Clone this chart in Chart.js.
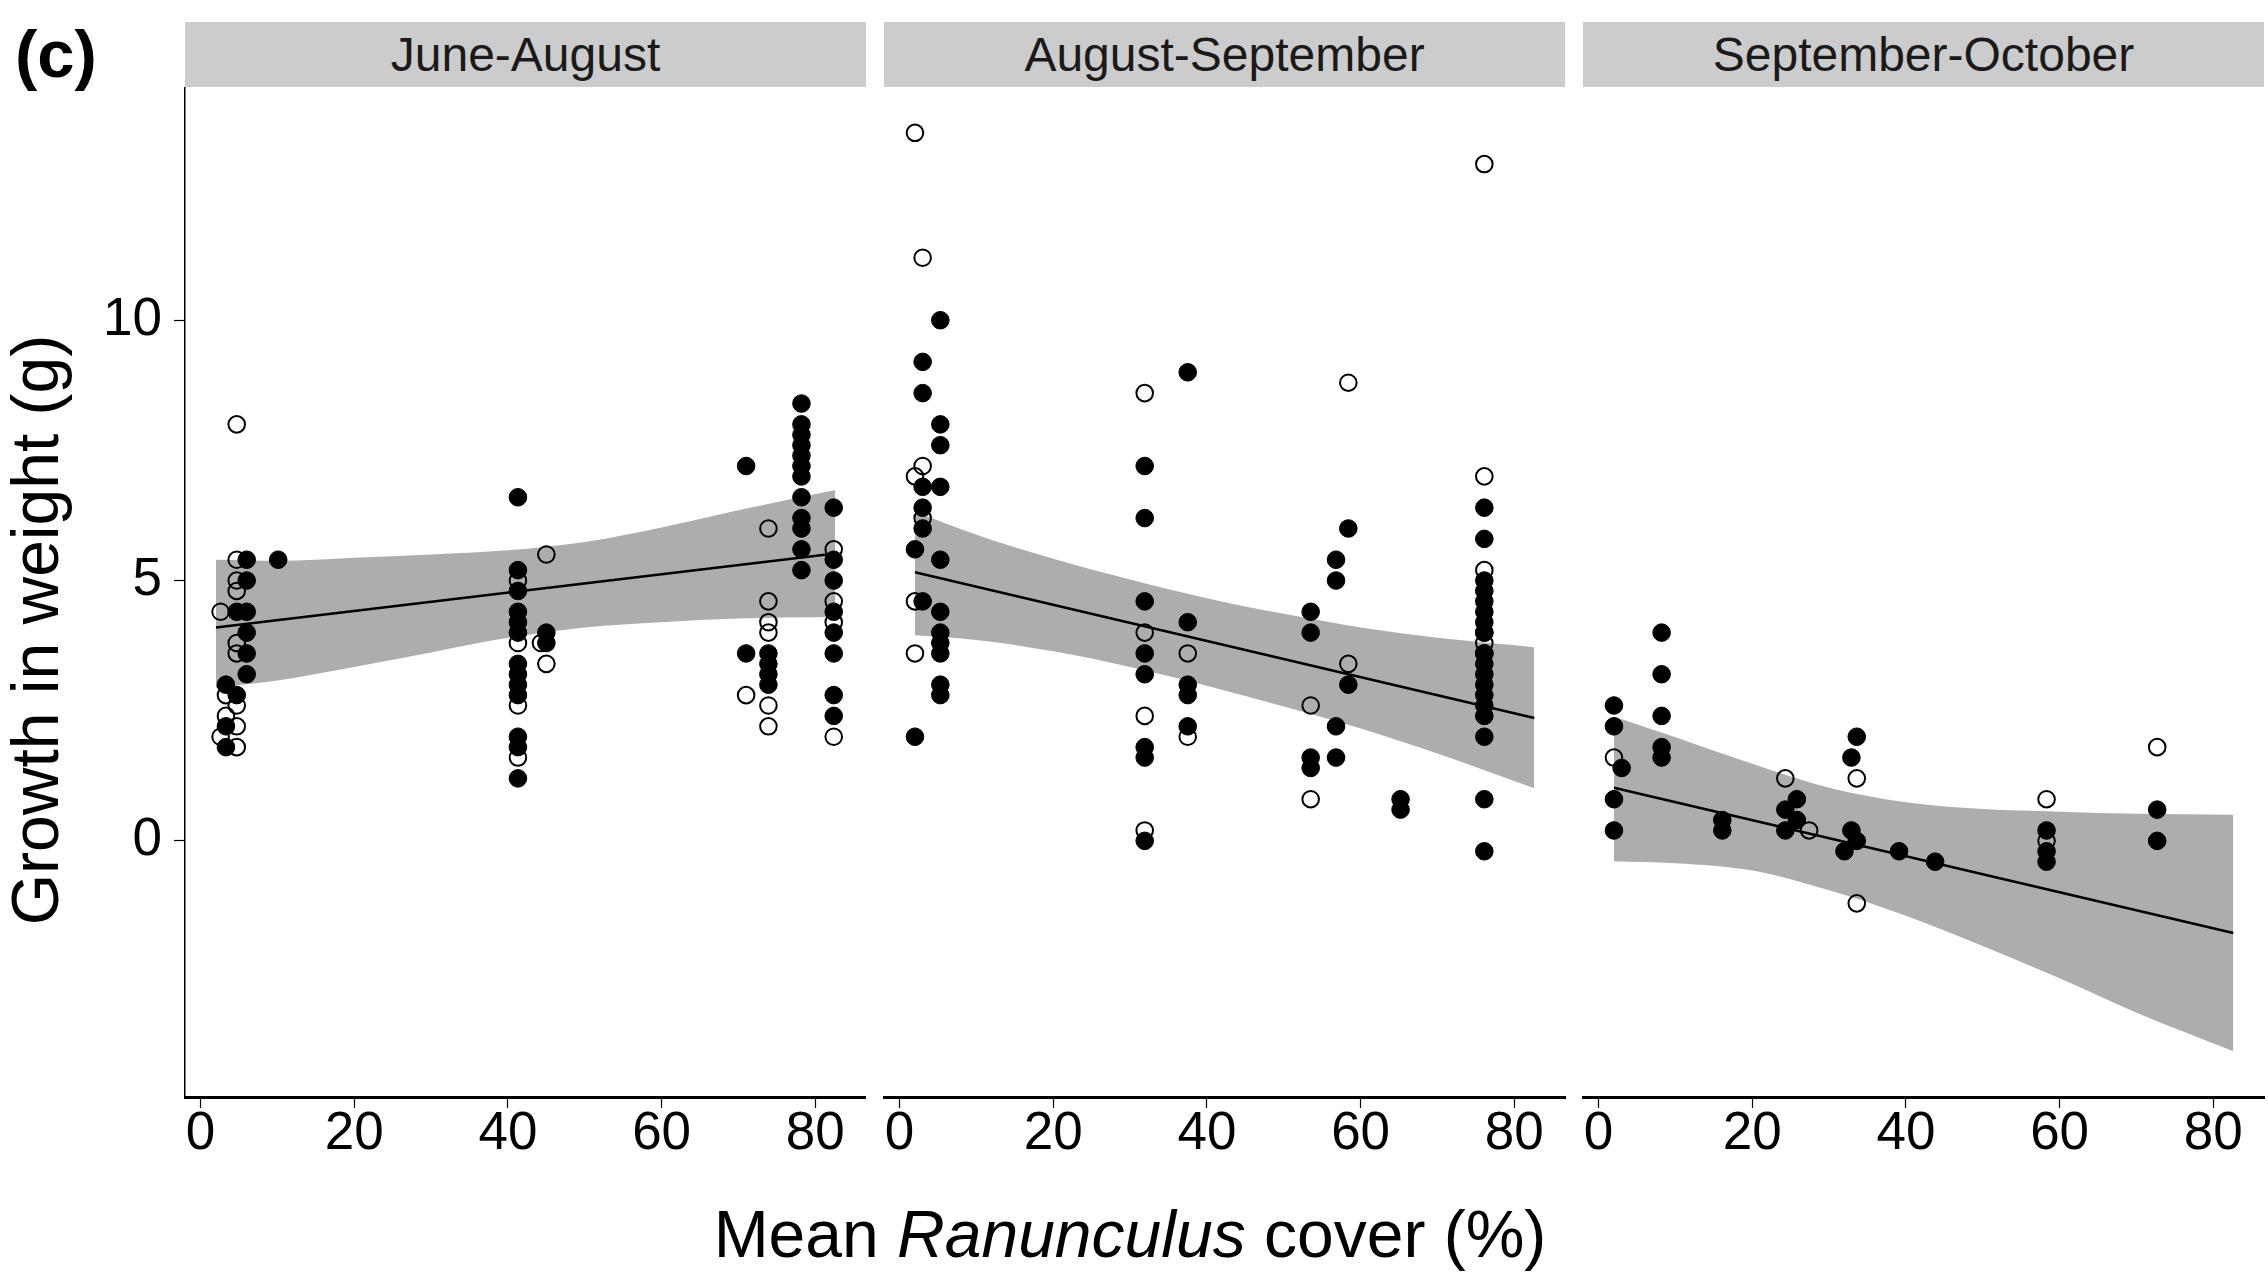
<!DOCTYPE html>
<html>
<head>
<meta charset="utf-8">
<script src="https://cdn.jsdelivr.net/npm/chart.js@4.4.1/dist/chart.umd.min.js"></script>
<style>
  html, body { margin: 0; padding: 0; background: #ffffff; }
  #wrap { position: relative; width: 2268px; height: 1281px; overflow: hidden; background: #ffffff;
          font-family: "Liberation Sans", Arial, Helvetica, sans-serif; color: #000; }
  canvas { position: absolute; }
  .strip { position: absolute; top: 22px; height: 65px; background: #CCCCCC; color: #1a1a1a;
           display: flex; align-items: center; justify-content: center; font-size: 48px; }
  .tag { position: absolute; left: 15px; top: 14px; height: 80px; line-height: 80px; font-size: 67px; font-weight: bold; }
  .ytitle { position: absolute; left: -365px; top: 590px; width: 800px; height: 80px; line-height: 80px;
            text-align: center; font-size: 66px; transform: rotate(-90deg); white-space: nowrap; }
  .xtitle { position: absolute; left: 530px; top: 1194px; width: 1200px; height: 80px; line-height: 80px;
            text-align: center; font-size: 66px; white-space: nowrap; }
</style>
</head>
<body>
<div id="wrap">
  <div class="tag">(c)</div>
  <div class="ytitle">Growth in weight (g)</div>
  <div class="xtitle">Mean <i>Ranunculus</i> cover (%)</div>
</div>
<script>
// ---------------- DATA ----------------
const facetTitles = ["June-August", "August-September", "September-October"];
const xTickValues = [0, 20, 40, 60, 80];
const yTickValues = [0, 5, 10];

// June-August
const jaFilledCover  = [6.0, 10.1, 6.0, 4.7, 6.0, 6.0, 6.0, 6.0, 3.3, 4.7, 3.3, 3.3,
                        41.3, 41.3, 41.3, 41.3, 41.3, 41.3, 41.3, 41.3, 41.3, 41.3, 41.3, 41.3, 41.3, 45.0, 45.0,
                        71.0, 71.0, 73.9, 73.9, 73.9, 73.9,
                        78.2, 78.2, 78.2, 78.2, 78.2, 78.2, 78.2, 78.2, 78.2, 78.2, 78.2, 78.2,
                        82.4, 82.4, 82.4, 82.4, 82.4, 82.4, 82.4, 82.4];
const jaFilledGrowth = [5.4, 5.4, 5.0, 4.4, 4.4, 4.0, 3.6, 3.2, 3.0, 2.8, 2.2, 1.8,
                        6.6, 5.2, 4.8, 4.4, 4.2, 4.0, 3.4, 3.2, 3.0, 2.8, 2.0, 1.8, 1.2, 4.0, 3.8,
                        7.2, 3.6, 3.6, 3.4, 3.2, 3.0,
                        8.4, 8.0, 7.8, 7.6, 7.4, 7.2, 7.0, 6.6, 6.2, 6.0, 5.6, 5.2,
                        6.4, 5.4, 5.0, 4.4, 4.0, 3.6, 2.8, 2.4];
const jaOpenCover    = [4.7, 4.7, 4.7, 4.7, 2.6, 4.7, 4.7, 3.3, 4.7, 3.3, 4.7, 2.6, 4.7,
                        41.3, 41.3, 41.3, 41.3, 45.0, 44.3, 45.0,
                        71.0, 73.9, 73.9, 73.9, 73.9, 73.9, 73.9,
                        82.4, 82.4, 82.4, 82.4];
const jaOpenGrowth   = [8.0, 5.4, 5.0, 4.8, 4.4, 3.8, 3.6, 2.8, 2.6, 2.4, 2.2, 2.0, 1.8,
                        5.0, 3.8, 2.6, 1.6, 5.5, 3.8, 3.4,
                        2.8, 6.0, 4.6, 4.2, 4.0, 2.6, 2.2,
                        5.6, 4.6, 4.2, 2.0];
const jaFitCover  = [2.0, 82.6];
const jaFitGrowth = [4.10, 5.52];

// August-September
const asFilledCover  = [5.3, 3.0, 3.0, 5.3, 5.3, 3.0, 5.3, 3.0, 3.0, 2.0, 5.3, 3.0, 5.3, 5.3, 5.3, 5.3, 5.3, 5.3, 2.0,
                        31.9, 31.9, 31.9, 31.9, 31.9, 31.9, 31.9, 31.9,
                        37.5, 37.5, 37.5, 37.5, 37.5,
                        53.5, 53.5, 53.5, 53.5,
                        56.8, 56.8, 56.8, 56.8,
                        58.4, 58.4,
                        65.2, 65.2,
                        76.1, 76.1, 76.1, 76.1, 76.1, 76.1, 76.1, 76.1, 76.1, 76.1, 76.1, 76.1, 76.1, 76.1, 76.1, 76.1, 76.1, 76.1];
const asFilledGrowth = [10.0, 9.2, 8.6, 8.0, 7.6, 6.8, 6.8, 6.4, 6.0, 5.6, 5.4, 4.6, 4.4, 4.0, 3.8, 3.6, 3.0, 2.8, 2.0,
                        7.2, 6.2, 4.6, 3.6, 3.2, 1.8, 1.6, 0.0,
                        9.0, 4.2, 3.0, 2.8, 2.2,
                        4.4, 4.0, 1.6, 1.4,
                        5.4, 5.0, 2.2, 1.6,
                        6.0, 3.0,
                        0.8, 0.6,
                        6.4, 5.8, 5.0, 4.8, 4.6, 4.4, 4.2, 4.0, 3.6, 3.4, 3.2, 3.0, 2.8, 2.6, 2.4, 2.0, 0.8, -0.2];
const asOpenCover    = [2.0, 3.0, 3.0, 2.0, 3.0, 2.0, 2.0,
                        31.9, 31.9, 31.9, 31.9,
                        37.5, 37.5,
                        53.5, 53.5,
                        58.4, 58.4,
                        76.1, 76.1, 76.1, 76.1, 76.1, 76.1];
const asOpenGrowth   = [13.6, 11.2, 7.2, 7.0, 6.2, 4.6, 3.6,
                        8.6, 4.0, 2.4, 0.2,
                        3.6, 2.0,
                        2.6, 0.8,
                        8.8, 3.4,
                        13.0, 7.0, 5.2, 4.0, 3.8, 3.6];
const asFitCover  = [2.0, 82.6];
const asFitGrowth = [5.16, 2.36];

// September-October
const soFilledCover  = [2.0, 2.0, 2.0, 2.0, 3.0, 8.2, 8.2, 8.2, 8.2, 8.2, 16.1, 16.1, 24.3, 24.3, 25.8, 25.8,
                        32.9, 32.9, 33.6, 33.6, 32.0, 39.1, 43.8, 58.3, 58.3, 58.3, 72.7, 72.7];
const soFilledGrowth = [2.6, 2.2, 0.8, 0.2, 1.4, 4.0, 3.2, 2.4, 1.8, 1.6, 0.4, 0.2, 0.6, 0.2, 0.8, 0.4,
                        1.6, 0.2, 2.0, 0.0, -0.2, -0.2, -0.4, 0.2, -0.2, -0.4, 0.6, 0.0];
const soOpenCover    = [2.0, 24.3, 27.4, 33.6, 33.6, 58.3, 58.3, 72.7];
const soOpenGrowth   = [1.6, 1.2, 0.2, 1.2, -1.2, 0.8, 0.0, 1.8];
const soFitCover  = [2.0, 82.6];
const soFitGrowth = [1.02, -1.77];

// confidence bands (read at these covers)
const bandCover   = [2, 10, 20, 30, 40, 50, 60, 70, 82.6];
const jaBandUpper = [5.40, 5.38, 5.44, 5.50, 5.58, 5.74, 6.02, 6.35, 6.74];
const jaBandLower = [2.94, 3.08, 3.34, 3.62, 3.90, 4.10, 4.20, 4.27, 4.30];
const asBandUpper = [6.32, 5.88, 5.42, 5.02, 4.66, 4.36, 4.10, 3.90, 3.72];
const asBandLower = [3.95, 3.86, 3.64, 3.34, 2.98, 2.58, 2.16, 1.68, 1.01];
const soBandUpper = [2.39, 1.99, 1.48, 1.02, 0.74, 0.61, 0.56, 0.52, 0.50];
const soBandLower = [-0.39, -0.43, -0.57, -0.95, -1.44, -2.02, -2.64, -3.30, -4.04];

// ---------------- LAYOUT ----------------
const FONT = '"Liberation Sans", Arial, Helvetica, sans-serif';
Chart.defaults.font.family = FONT;
const panelLeft = [185, 884, 1583];
const panelWidth = 681;
const plotTop = 87;
const plotHeight = 1010;
const xAxisHeight = 90;
const xRange = [-2.03, 86.6];
const yRange = [-4.92, 14.48];

const zip = (xs, ys) => xs.map((x, k) => ({ x: x, y: ys[k] }));
const wrap = document.getElementById('wrap');

const panels = [
  [jaFilledCover, jaFilledGrowth, jaOpenCover, jaOpenGrowth, jaFitCover, jaFitGrowth, jaBandUpper, jaBandLower],
  [asFilledCover, asFilledGrowth, asOpenCover, asOpenGrowth, asFitCover, asFitGrowth, asBandUpper, asBandLower],
  [soFilledCover, soFilledGrowth, soOpenCover, soOpenGrowth, soFitCover, soFitGrowth, soBandUpper, soBandLower]
];

panels.forEach((p, i) => {
  const [fx, fy, ox, oy, lx, ly, bu, bl] = p;
  const strip = document.createElement('div');
  strip.className = 'strip';
  strip.style.left = panelLeft[i] + 'px';
  strip.style.width = panelWidth + 'px';
  strip.textContent = facetTitles[i];
  wrap.appendChild(strip);

  const padLeft = i === 0 ? 0 : 40;
  const padRight = i === 2 ? 4 : (i === 1 ? 40 : 0);
  const left = i === 0 ? 0 : panelLeft[i] - padLeft;
  const width = (i === 0 ? panelLeft[0] : padLeft) + panelWidth + padRight;
  const height = plotHeight + xAxisHeight;

  const cv = document.createElement('canvas');
  cv.width = width; cv.height = height;
  cv.style.left = left + 'px'; cv.style.top = plotTop + 'px';
  cv.style.width = width + 'px'; cv.style.height = height + 'px';
  wrap.appendChild(cv);

  const yScale = i === 0 ? {
    type: 'linear', min: yRange[0], max: yRange[1],
    afterBuildTicks: s => { s.ticks = yTickValues.map(v => ({ value: v })); },
    afterFit: s => { s.width = panelLeft[0]; s.paddingTop = 0; s.paddingBottom = 0; },
    ticks: { font: { size: 53, lineHeight: 1 }, color: '#000', padding: 12, autoSkip: false },
    grid: { display: true, drawOnChartArea: false, drawTicks: true, tickLength: 11, tickColor: '#000', tickWidth: 1.2 },
    border: { display: true, color: '#000', width: 1.5 }
  } : { type: 'linear', min: yRange[0], max: yRange[1], display: false };

  new Chart(cv, {
    type: 'scatter',
    data: {
      datasets: [
        { type: 'line', label: 'lower', data: zip(bandCover, bl), borderColor: 'rgba(0,0,0,0)', borderWidth: 0,
          pointRadius: 0, fill: false, cubicInterpolationMode: 'monotone', order: 10 },
        { type: 'line', label: 'upper', data: zip(bandCover, bu), borderColor: 'rgba(0,0,0,0)', borderWidth: 0,
          pointRadius: 0, backgroundColor: '#ADADAD', fill: '-1', cubicInterpolationMode: 'monotone', order: 9 },
        { type: 'line', label: 'fit', data: zip(lx, ly), borderColor: '#000', borderWidth: 2.5,
          pointRadius: 0, fill: false, order: 5 },
        { type: 'scatter', label: 'open', data: zip(ox, oy), pointRadius: 8.3, pointBorderWidth: 2,
          pointBorderColor: '#000', pointBackgroundColor: 'rgba(0,0,0,0)', order: 2 },
        { type: 'scatter', label: 'filled', data: zip(fx, fy), pointRadius: 8.8, pointBorderWidth: 1,
          pointBorderColor: '#000', pointBackgroundColor: '#000', order: 1 }
      ]
    },
    options: {
      responsive: false, animation: false, devicePixelRatio: 1,
      layout: { autoPadding: false, padding: { left: padLeft, right: padRight, top: 0, bottom: 0 } },
      plugins: { legend: { display: false }, tooltip: { enabled: false }, title: { display: false } },
      events: [],
      scales: {
        x: {
          type: 'linear', min: xRange[0], max: xRange[1],
          afterBuildTicks: s => { s.ticks = xTickValues.map(v => ({ value: v })); },
          afterFit: s => { s.height = xAxisHeight; s.paddingLeft = 0; s.paddingRight = 0; },
          ticks: { font: { size: 53, lineHeight: 1 }, color: '#000', padding: 0, maxRotation: 0, autoSkip: false },
          grid: { display: true, drawOnChartArea: false, drawTicks: true, tickLength: 11, tickColor: '#000', tickWidth: 1.2 },
          border: { display: true, color: '#000', width: 3 }
        },
        y: yScale
      }
    }
  });
});
</script>
</body>
</html>
